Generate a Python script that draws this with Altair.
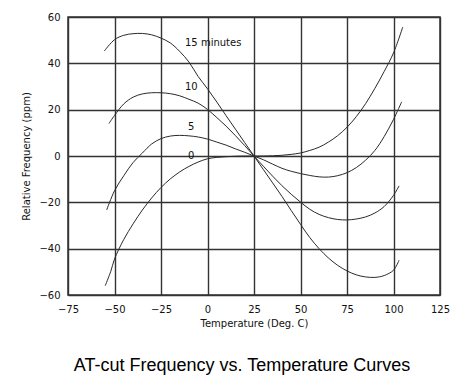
import altair as alt
import pandas as pd

# ---- data ----
temps_15 = [-55.5, -50, -45, -40, -35, -30, -25, -20, -15, -10, -5, 0, 5, 10, 15, 20, 25,
            30, 35, 40, 45, 50, 55, 60, 65, 70, 75, 80, 85, 90, 95, 100, 103]
vals_15 = [45.3, 50.2, 52.1, 52.8, 52.9, 52.3, 50.9, 48.8, 45.2, 40.6, 34.3, 29.0, 23.3, 17.4, 11.6, 5.8, 0.0,
           -5.8, -11.6, -17.4, -23.5, -29.5, -35.2, -40.0, -44.0, -47.2, -49.6, -51.3, -52.2, -52.4, -51.6, -49.3, -45.0]

temps_10 = [-53, -50, -45, -40, -35, -30, -25, -20, -15, -10, -5, 0, 5, 10, 15, 20, 25,
            30, 35, 40, 45, 50, 55, 60, 65, 70, 75, 80, 85, 90, 95, 100, 103]
vals_10 = [14.0, 17.5, 22.5, 25.4, 26.8, 27.3, 27.3, 26.9, 26.0, 24.5, 22.8, 20.1, 16.6, 12.9, 8.8, 4.5, 0.0,
           -4.4, -8.7, -12.8, -16.5, -19.9, -23.0, -25.2, -26.6, -27.4, -27.6, -27.2, -26.3, -24.6, -21.8, -17.0, -12.9]

temps_5 = [-54.2, -50, -45, -40, -35, -30, -25, -20, -15, -10, -5, 0, 5, 10, 15, 20, 25,
           30, 35, 40, 45, 50, 55, 60, 65, 70, 75, 80, 85, 90, 95, 100, 104.4]
vals_5 = [-23.3, -15.0, -8.5, -2.8, 1.3, 5.2, 7.5, 8.6, 8.9, 8.7, 8.2, 7.3, 6.0, 4.7, 3.1, 1.6, 0.0,
          -1.6, -3.5, -5.3, -6.6, -7.6, -8.4, -9.0, -9.1, -8.5, -7.2, -5.0, -1.8, 2.4, 8.4, 15.8, 23.4]

temps_0 = [-55, -52, -50, -45, -40, -35, -30, -25, -20, -15, -10, -5, 0, 5, 10, 15, 20, 25,
           30, 35, 40, 45, 50, 55, 60, 65, 70, 75, 80, 85, 90, 95, 100, 105]
vals_0 = [-56.0, -49.8, -44.5, -36.0, -29.3, -23.3, -18.1, -13.6, -9.9, -6.9, -4.5, -2.6, -1.2, -0.6, -0.3, -0.1, 0.0, 0.0,
          0.0, 0.1, 0.3, 0.7, 1.3, 2.4, 3.8, 6.0, 8.8, 12.4, 17.0, 22.6, 29.2, 36.5, 44.5, 55.7]

label_text = ["15 minutes", "10", "5", "0"]
label_temp = [-12.1, -12.1, -10.5, -10.5]
label_ppm = [48.6, 29.9, 12.6, 0.0]

x_ticks = [-75, -50, -25, 0, 25, 50, 75, 100, 125]
y_ticks = [-60, -40, -20, 0, 20, 40, 60]

rows = []
for name, ts, vs in [("15", temps_15, vals_15), ("10", temps_10, vals_10),
                     ("5", temps_5, vals_5), ("0", temps_0, vals_0)]:
    for t, v in zip(ts, vs):
        rows.append({"curve": name, "temp": t, "ppm": v})
curves = pd.DataFrame(rows)
labels = pd.DataFrame({"text": label_text, "temp": label_temp, "ppm": label_ppm})

FONT = "DejaVu Sans"

xscale = alt.Scale(domain=[-75, 125], nice=False, zero=False)
yscale = alt.Scale(domain=[-60, 60], nice=False, zero=False)

xaxis = alt.Axis(values=x_ticks, title="Temperature (Deg. C)", format="d",
                 labelPadding=9, titlePadding=4, labelFlush=False)
yaxis = alt.Axis(values=y_ticks, title="Relative Frequency (ppm)", format="d",
                 labelPadding=8, titlePadding=7, labelFlush=False)

lines = alt.Chart(curves).mark_line(color="#2a2a2a", strokeWidth=1, interpolate="catmull-rom").encode(
    x=alt.X("temp:Q", scale=xscale, axis=xaxis),
    y=alt.Y("ppm:Q", scale=yscale, axis=yaxis),
    detail="curve:N",
    order="temp:Q",
)

text = alt.Chart(labels).mark_text(align="left", baseline="middle", font=FONT,
                                   fontSize=10, color="#111").encode(
    x=alt.X("temp:Q", scale=xscale),
    y=alt.Y("ppm:Q", scale=yscale),
    text="text:N",
)

chart = alt.layer(lines, text).properties(
    width=372,
    height=278,
    autosize=alt.AutoSizeParams(type="none"),
    padding={"left": 60, "top": 9, "right": 20, "bottom": 82},
    background="white",
    title=alt.TitleParams("AT-cut Frequency vs. Temperature Curves", orient="bottom",
                          anchor="middle", font="Liberation Sans", fontSize=18,
                          fontWeight="normal", color="#000", offset=29, dx=-12),
).configure_view(
    stroke="#333", strokeWidth=1.5
).configure_axis(
    grid=True, gridColor="#333", gridWidth=1.4, gridOpacity=1,
    domain=False, ticks=False,
    labelFont=FONT, labelFontSize=10, labelColor="#111",
    titleFont=FONT, titleFontSize=10, titleFontWeight="normal", titleColor="#111",
)

chart.save("out.html", embed_options={"renderer": "svg", "actions": False})
